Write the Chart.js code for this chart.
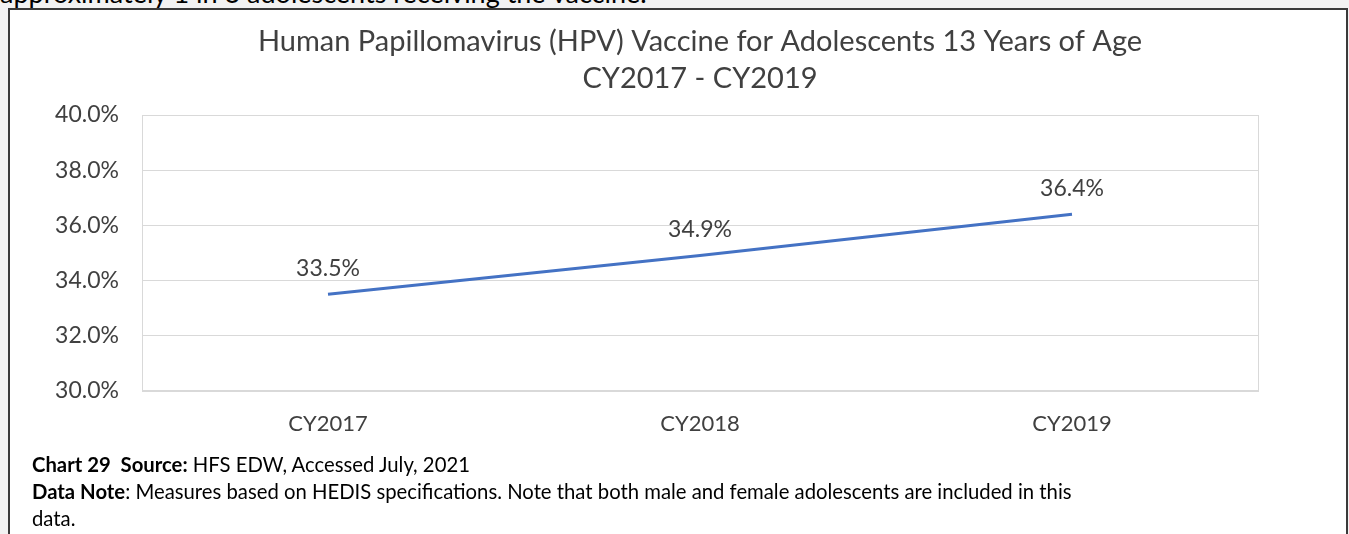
<!DOCTYPE html>
<html>
<head>
<meta charset="utf-8">
<script src="https://cdn.jsdelivr.net/npm/chart.js@4.4.0/dist/chart.umd.min.js"></script>
<style>
  html, body { margin: 0; padding: 0; background: #f2f2f2; width: 1349px; height: 534px; overflow: hidden; font-family: Lato, 'Noto Sans', sans-serif; }
  #lead { position: absolute; left: 0; top: -21px; font-size: 27px; line-height: 27px; color: #000; white-space: nowrap; }
  #box { position: absolute; left: 8px; top: 8px; width: 1336px; height: 540px; border: 2px solid #3a3a3a; background: #fff; }
  #wrap { position: absolute; left: 0; top: 0; width: 1336px; height: 457px; }
  #notes { position: absolute; left: 22px; top: 441px; font-size: 20.3px; line-height: 27px; color: #000; white-space: nowrap; }
  #notes b { font-weight: 700; }
</style>
</head>
<body>
<div id="lead">approximately 1 in 3 adolescents receiving the vaccine.</div>
<div id="box">
  <div id="wrap"><canvas id="chart"></canvas></div>
  <div id="notes">
    <div><b>Chart 29&nbsp; Source:</b> HFS EDW, Accessed July, 2021</div>
    <div><b>Data Note</b>: Measures based on HEDIS specifications. Note that both male and female adolescents are included in this</div>
    <div>data.</div>
  </div>
</div>
<script>
// data
var years = ['CY2017', 'CY2018', 'CY2019']
var hpvRate = [33.5, 34.9, 36.4]
var titleLines = ['Human Papillomavirus (HPV) Vaccine for Adolescents 13 Years of Age', 'CY2017 - CY2019']

var textColor = '#404040'
var gridColor = '#d9d9d9'

// box round the plot area
var areaBorder = {
    id: 'areaBorder',
    beforeDatasetsDraw(chart) {
        var a = chart.chartArea
        var ctx = chart.ctx
        ctx.save()
        ctx.strokeStyle = gridColor
        ctx.lineWidth = 1
        ctx.strokeRect(Math.round(a.left) + 0.5, Math.round(a.top) + 0.5, Math.round(a.right - a.left), Math.round(a.bottom - a.top))
        ctx.restore()
    }
}

// value labels above each point
var pointLabels = {
    id: 'pointLabels',
    afterDatasetsDraw(chart) {
        var ctx = chart.ctx
        var meta = chart.getDatasetMeta(0)
        ctx.save()
        ctx.font = '23px Lato'
        ctx.fillStyle = textColor
        ctx.textAlign = 'center'
        ctx.textBaseline = 'middle'
        meta.data.forEach(function (pt, i) {
            ctx.fillText(hpvRate[i].toFixed(1) + '%', pt.x, pt.y - 26)
        })
        ctx.restore()
    }
}

new Chart(document.getElementById('chart'), {
    type: 'line',
    data: {
        labels: years,
        datasets: [{
            data: hpvRate,
            borderColor: '#4472c4',
            borderWidth: 3,
            pointRadius: 0,
            tension: 0
        }]
    },
    options: {
        responsive: true,
        maintainAspectRatio: false,
        animation: false,
        layout: { padding: { left: 20, right: 88, top: 0, bottom: 10 } },
        plugins: {
            legend: { display: false },
            tooltip: { enabled: false },
            title: {
                display: true,
                fullSize: false,
                text: titleLines,
                color: textColor,
                font: { family: 'Lato', size: 29, weight: 'normal', lineHeight: 1.276 },
                padding: { top: 13, bottom: 18 }
            }
        },
        scales: {
            x: {
                offset: true,
                grid: { display: false, drawTicks: false },
                border: { display: false },
                ticks: { color: textColor, font: { family: 'Lato', size: 22 }, padding: 20 }
            },
            y: {
                min: 30,
                max: 40,
                afterFit(scale) { scale.width = 112 },
                grid: { color: gridColor, drawTicks: false },
                border: { display: false },
                ticks: {
                    stepSize: 2,
                    color: textColor,
                    font: { family: 'Lato', size: 23 },
                    padding: 23,
                    callback: function (v) { return v.toFixed(1) + '%' }
                }
            }
        }
    },
    plugins: [areaBorder, pointLabels]
})
</script>
</body>
</html>
